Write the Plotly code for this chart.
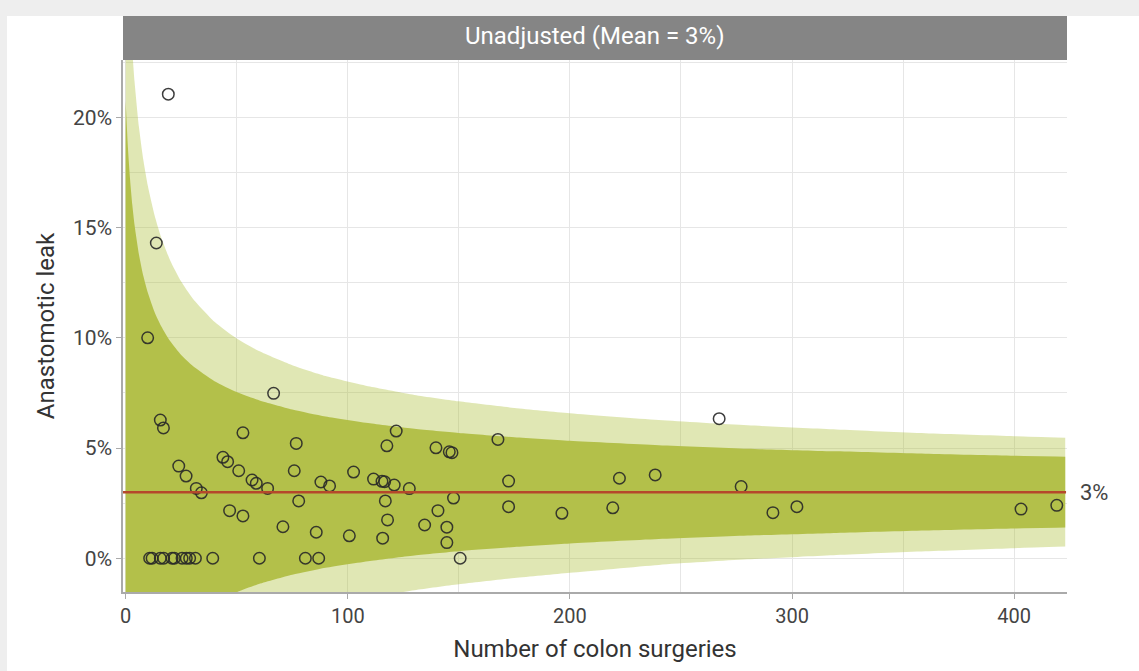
import plotly.graph_objects as go

# ---- data ----
mean_rate = 3  # %

hosp_n = [19.2, 13.8, 9.9, 66.6, 15.6, 17.0, 267.2, 52.8, 121.8, 76.8, 117.6, 167.6, 139.7,
          145.7, 146.9, 23.9, 27.2, 43.8, 45.9, 50.9, 56.9, 58.8, 63.9, 31.8, 34.1, 75.9,
          87.9, 91.8, 102.6, 111.6, 115.4, 116.6, 120.9, 127.7, 77.9, 116.9, 147.6, 172.4,
          172.4, 196.4, 219.3, 222.3, 238.4, 277.1, 291.4, 302.2, 403.1, 419.2, 46.8, 52.8,
          70.8, 85.8, 100.7, 115.7, 117.9, 134.6, 140.6, 144.6, 144.6, 150.6,
          10.8, 11.9, 15.6, 17.1, 20.9, 21.9, 25.4, 27.3, 28.8, 31.4, 39.2, 60.2, 80.9, 86.9]
hosp_leak = [21.05, 14.3, 10.0, 7.48, 6.27, 5.91, 6.33, 5.69, 5.77, 5.21, 5.10, 5.39, 5.01,
             4.83, 4.79, 4.18, 3.73, 4.58, 4.38, 3.97, 3.55, 3.40, 3.17, 3.17, 2.97, 3.97,
             3.46, 3.28, 3.91, 3.59, 3.49, 3.47, 3.32, 3.16, 2.60, 2.60, 2.73, 3.50,
             2.34, 2.04, 2.29, 3.63, 3.78, 3.25, 2.07, 2.34, 2.23, 2.40, 2.16, 1.92,
             1.43, 1.18, 1.02, 0.91, 1.74, 1.51, 2.16, 1.41, 0.71, 0.0,
             0, 0, 0, 0, 0, 0, 0, 0, 0, 0, 0, 0, 0, 0]

band_n = [0, 1, 2, 3, 4, 6, 8, 10, 13, 16, 20, 25, 30, 40, 50, 60, 75, 90, 110, 130,
          150, 175, 200, 240, 280, 320, 360, 400, 423]
inner_upper = [20.74, 18.65, 17.16, 16.02, 15.12, 13.77, 12.79, 12.04, 11.17, 10.52, 9.85,
               9.22, 8.74, 8.03, 7.54, 7.17, 6.75, 6.43, 6.12, 5.87, 5.68, 5.49, 5.33, 5.13,
               4.97, 4.85, 4.74, 4.65, 4.61]
inner_lower = [-14.74, -12.65, -11.16, -10.02, -9.12, -7.77, -6.79, -6.04, -5.17, -4.52,
               -3.85, -3.22, -2.74, -2.03, -1.54, -1.17, -0.75, -0.43, -0.12, 0.13, 0.32,
               0.51, 0.67, 0.87, 1.03, 1.15, 1.26, 1.35, 1.39]
outer_upper = [30.26, 27.04, 24.75, 23.00, 21.62, 19.55, 18.04, 16.88, 15.56, 14.55, 13.52,
               12.55, 11.81, 10.73, 9.97, 9.40, 8.76, 8.27, 7.79, 7.41, 7.12, 6.82, 6.58,
               6.27, 6.03, 5.84, 5.67, 5.54, 5.47]
outer_lower = [-24.26, -21.04, -18.75, -17.00, -15.62, -13.55, -12.04, -10.88, -9.56, -8.55,
               -7.52, -6.55, -5.81, -4.73, -3.97, -3.40, -2.76, -2.27, -1.79, -1.45, -1.18,
               -0.90, -0.66, -0.30, -0.05, 0.15, 0.32, 0.46, 0.53]

x_ticks = [0, 100, 200, 300, 400]
y_ticks = [0, 5, 10, 15, 20]
y_ticklabels = ["0%", "5%", "10%", "15%", "20%"]
panel_title = "Unadjusted (Mean = 3%)"
x_title = "Number of colon surgeries"
y_title = "Anastomotic leak"

FONT = "Roboto"
LIGHT = "rgba(168,188,48,0.36)"
DARK = "#b3c04a"

fig = go.Figure()
fig.add_trace(go.Scatter(x=band_n, y=outer_lower, mode="lines",
                         line=dict(width=0, shape="spline", smoothing=0.6),
                         hoverinfo="skip", showlegend=False))
fig.add_trace(go.Scatter(x=band_n, y=outer_upper, mode="lines", fill="tonexty",
                         fillcolor=LIGHT, line=dict(width=0, shape="spline", smoothing=0.6),
                         hoverinfo="skip", showlegend=False))
fig.add_trace(go.Scatter(x=band_n, y=inner_lower, mode="lines",
                         line=dict(width=0, shape="spline", smoothing=0.6),
                         hoverinfo="skip", showlegend=False))
fig.add_trace(go.Scatter(x=band_n, y=inner_upper, mode="lines", fill="tonexty",
                         fillcolor=DARK, line=dict(width=0, shape="spline", smoothing=0.6),
                         hoverinfo="skip", showlegend=False))

# mean line
fig.add_shape(type="line", xref="paper", x0=0, x1=0.999, yref="y", y0=mean_rate, y1=mean_rate,
              line=dict(color="#b5482b", width=2.5), layer="above")

fig.add_trace(go.Scatter(x=hosp_n, y=hosp_leak, mode="markers",
                         marker=dict(symbol="circle-open", size=11.5,
                                     line=dict(width=1.5, color="rgba(40,40,40,0.9)"),
                                     color="rgba(40,40,40,0.9)"),
                         showlegend=False))

W, H = 1139, 671
L, R, T, B = 123, 72, 60, 79
pw, ph = W - L - R, H - T - B

# white card behind the chart
fig.add_shape(type="rect", xref="paper", yref="paper",
              x0=(7 - L) / pw, x1=(W + 5 - L) / pw, y0=-(B + 5) / ph, y1=1 + (T - 16) / ph,
              fillcolor="white", line=dict(width=0), layer="below")
# facet strip
fig.add_shape(type="rect", xref="paper", yref="paper", x0=0, x1=1, y0=1, y1=1 + 44 / ph,
              fillcolor="#858585", line=dict(width=0), layer="above")
fig.add_annotation(xref="paper", yref="paper", x=0.5, y=1 + 22 / ph, text=panel_title,
                   showarrow=False, font=dict(family=FONT, size=24, color="white"),
                   xanchor="center", yanchor="middle", yshift=2)
# mean label
fig.add_annotation(xref="paper", yref="y", x=1, y=mean_rate, text=f"{mean_rate}%",
                   showarrow=False, xanchor="left", yanchor="middle", xshift=11,
                   font=dict(family=FONT, size=22, color="#444444"))

grid = "#e6e6e6"
fig.update_layout(
    width=W, height=H,
    margin=dict(l=L, r=R, t=T, b=B, pad=0),
    paper_bgcolor="#eeeeee", plot_bgcolor="white",
    font=dict(family=FONT, color="#444444"),
    xaxis=dict(range=[-1.2, 423.8], tickvals=x_ticks, ticks="outside", ticklen=5,
               tickcolor="#aaaaaa", tickfont=dict(size=20, color="#444444"),
               showgrid=True, gridcolor=grid, gridwidth=1,
               minor=dict(dtick=50, tick0=0, showgrid=True, gridcolor=grid, gridwidth=1),
               showline=True, linecolor="#aaaaaa", linewidth=1.5, zeroline=False,
               title=dict(text=x_title, font=dict(size=24, color="#333333"), standoff=13)),
    yaxis=dict(range=[-1.53, 22.6], tickvals=y_ticks, ticktext=y_ticklabels, ticks="outside",
               ticklen=5, tickcolor="#aaaaaa", tickfont=dict(size=21, color="#444444"),
               showgrid=True, gridcolor=grid, gridwidth=1,
               minor=dict(dtick=2.5, tick0=0, showgrid=True, gridcolor=grid, gridwidth=1),
               showline=True, linecolor="#aaaaaa", linewidth=1.5, zeroline=False,
               title=dict(text=y_title, font=dict(size=24, color="#333333"), standoff=12)),
)

fig.write_html("out.html")
